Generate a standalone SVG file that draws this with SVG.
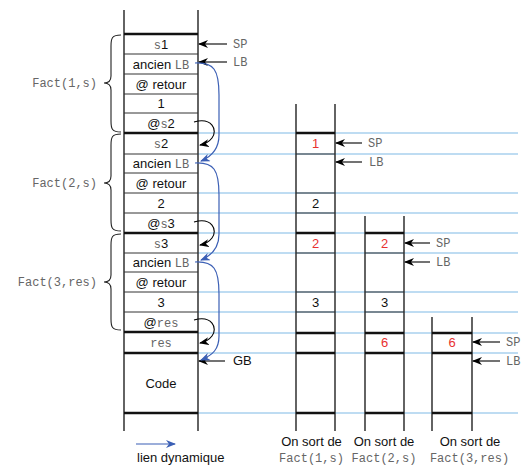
<svg xmlns="http://www.w3.org/2000/svg" width="523" height="465" viewBox="0 0 523 465">
<style>
.bl{stroke:#a8d0ee;stroke-width:1.3}
.v{stroke:#222;stroke-width:1.4}
.t{stroke:#111;stroke-width:2.6}
.n{stroke:#333;stroke-width:1}
.sa{font-family:"Liberation Sans",Arial,sans-serif;font-size:13px;fill:#111}
.mo{font-family:"Liberation Mono","Courier New",monospace;font-size:12px;fill:#666}
.red{fill:#e8312f}
.ptr{stroke:#000;stroke-width:1.1;marker-end:url(#ab)}
.crv{fill:none;stroke:#000;stroke-width:1.1;marker-end:url(#ab)}
.dyn{fill:none;stroke:#3b5fb5;stroke-width:1.2;marker-end:url(#bb)}
.br{fill:none;stroke:#222;stroke-width:1.1}
</style>
<defs>
<marker id="ab" markerWidth="10" markerHeight="8" refX="9" refY="4" orient="auto" markerUnits="userSpaceOnUse"><path d="M0,0 L10,4 L0,8 L3,4 z" fill="#000"/></marker>
<marker id="bb" markerWidth="10" markerHeight="8" refX="9" refY="4" orient="auto" markerUnits="userSpaceOnUse"><path d="M0,0 L10,4 L0,8 L3,4 z" fill="#3b5fb5"/></marker>
</defs>
<rect width="523" height="465" fill="#fff"/>
<g id="guides">
<line class="bl" x1="198" y1="133" x2="518" y2="133"/>
<line class="bl" x1="198" y1="154" x2="518" y2="154"/>
<line class="bl" x1="198" y1="193" x2="518" y2="193"/>
<line class="bl" x1="198" y1="213" x2="518" y2="213"/>
<line class="bl" x1="198" y1="233" x2="518" y2="233"/>
<line class="bl" x1="198" y1="253" x2="518" y2="253"/>
<line class="bl" x1="198" y1="292" x2="518" y2="292"/>
<line class="bl" x1="198" y1="312" x2="518" y2="312"/>
<line class="bl" x1="198" y1="333" x2="518" y2="333"/>
<line class="bl" x1="198" y1="353" x2="518" y2="353"/>
<line class="bl" x1="198" y1="413" x2="518" y2="413"/>
</g>
<g id="main-stack">
<line class="v" x1="124" y1="10" x2="124" y2="431"/>
<line class="v" x1="198" y1="10" x2="198" y2="431"/>
<line class="t" x1="124" y1="34" x2="198" y2="34"/>
<line class="n" x1="124" y1="54" x2="198" y2="54"/>
<line class="n" x1="124" y1="74" x2="198" y2="74"/>
<line class="n" x1="124" y1="94" x2="198" y2="94"/>
<line class="n" x1="124" y1="113" x2="198" y2="113"/>
<line class="t" x1="124" y1="133" x2="198" y2="133"/>
<line class="n" x1="124" y1="154" x2="198" y2="154"/>
<line class="n" x1="124" y1="173" x2="198" y2="173"/>
<line class="n" x1="124" y1="193" x2="198" y2="193"/>
<line class="n" x1="124" y1="213" x2="198" y2="213"/>
<line class="t" x1="124" y1="233" x2="198" y2="233"/>
<line class="n" x1="124" y1="253" x2="198" y2="253"/>
<line class="n" x1="124" y1="272" x2="198" y2="272"/>
<line class="n" x1="124" y1="292" x2="198" y2="292"/>
<line class="n" x1="124" y1="312" x2="198" y2="312"/>
<line class="t" x1="124" y1="332" x2="198" y2="332"/>
<line class="t" x1="124" y1="353" x2="198" y2="353"/>
<line class="t" x1="124" y1="413" x2="198" y2="413"/>
<text class="sa" x="161" y="48.5" text-anchor="middle"><tspan class="mo">s</tspan>1</text>
<text class="sa" x="161" y="68.5" text-anchor="middle">ancien <tspan class="mo" font-size="11">LB</tspan></text>
<text class="sa" x="161" y="88.5" text-anchor="middle">@ retour</text>
<text class="sa" x="161" y="108" text-anchor="middle">1</text>
<text class="sa" x="161" y="127.5" text-anchor="middle">@<tspan class="mo">s</tspan>2</text>
<text class="sa" x="161" y="148" text-anchor="middle"><tspan class="mo">s</tspan>2</text>
<text class="sa" x="161" y="168" text-anchor="middle">ancien <tspan class="mo" font-size="11">LB</tspan></text>
<text class="sa" x="161" y="187.5" text-anchor="middle">@ retour</text>
<text class="sa" x="161" y="207.5" text-anchor="middle">2</text>
<text class="sa" x="161" y="227.5" text-anchor="middle">@<tspan class="mo">s</tspan>3</text>
<text class="sa" x="161" y="247.5" text-anchor="middle"><tspan class="mo">s</tspan>3</text>
<text class="sa" x="161" y="267" text-anchor="middle">ancien <tspan class="mo" font-size="11">LB</tspan></text>
<text class="sa" x="161" y="286.5" text-anchor="middle">@ retour</text>
<text class="sa" x="161" y="306.5" text-anchor="middle">3</text>
<text class="sa" x="161" y="326.5" text-anchor="middle">@<tspan class="mo">res</tspan></text>
<text class="mo" x="161" y="347" text-anchor="middle">res</text>
<text class="sa" x="161" y="387.5" text-anchor="middle">Code</text>
</g>
<g id="braces">
<path class="br" d="M121,35 C112,35 111,38 111,46 L111,76 C111,81 108,83 104,83 C108,83 111,85 111,90 L111,121 C111,129 112,132 121,132"/>
<text class="mo" x="97" y="87" text-anchor="end" font-size="12.4">Fact(1,s)</text>
<path class="br" d="M121,134 C112,134 111,137 111,145 L111,176 C111,181 108,183 104,183 C108,183 111,185 111,190 L111,220 C111,228 112,231 121,231"/>
<text class="mo" x="97" y="187" text-anchor="end" font-size="12.4">Fact(2,s)</text>
<path class="br" d="M121,234 C112,234 111,237 111,245 L111,275 C111,280 108,282 104,282 C108,282 111,284 111,289 L111,319 C111,327 112,330 121,330"/>
<text class="mo" x="97" y="286" text-anchor="end" font-size="12.4">Fact(3,res)</text>
</g>
<g id="col1">
<line class="v" x1="296" y1="104" x2="296" y2="431"/>
<line class="v" x1="335" y1="104" x2="335" y2="431"/>
<line class="t" x1="296" y1="133" x2="335" y2="133"/>
<line class="n" x1="296" y1="154" x2="335" y2="154"/>
<line class="n" x1="296" y1="193" x2="335" y2="193"/>
<line class="n" x1="296" y1="213" x2="335" y2="213"/>
<line class="t" x1="296" y1="233" x2="335" y2="233"/>
<line class="n" x1="296" y1="253" x2="335" y2="253"/>
<line class="n" x1="296" y1="292" x2="335" y2="292"/>
<line class="n" x1="296" y1="312" x2="335" y2="312"/>
<line class="t" x1="296" y1="333" x2="335" y2="333"/>
<line class="t" x1="296" y1="353" x2="335" y2="353"/>
<line class="t" x1="296" y1="413" x2="335" y2="413"/>
<text class="sa red" x="315.5" y="148" text-anchor="middle">1</text>
<text class="sa" x="315.5" y="207.5" text-anchor="middle">2</text>
<text class="sa red" x="315.5" y="247.5" text-anchor="middle">2</text>
<text class="sa" x="315.5" y="306.5" text-anchor="middle">3</text>
<text class="sa" x="311.5" y="446" text-anchor="middle">On sort de</text>
<text class="mo" x="311.5" y="462" text-anchor="middle">Fact(1,s)</text>
</g>
<g id="col2">
<line class="v" x1="365" y1="216" x2="365" y2="431"/>
<line class="v" x1="404" y1="216" x2="404" y2="431"/>
<line class="t" x1="365" y1="233" x2="404" y2="233"/>
<line class="n" x1="365" y1="253" x2="404" y2="253"/>
<line class="n" x1="365" y1="292" x2="404" y2="292"/>
<line class="n" x1="365" y1="312" x2="404" y2="312"/>
<line class="t" x1="365" y1="333" x2="404" y2="333"/>
<line class="t" x1="365" y1="353" x2="404" y2="353"/>
<line class="t" x1="365" y1="413" x2="404" y2="413"/>
<text class="sa red" x="384.5" y="247.5" text-anchor="middle">2</text>
<text class="sa" x="384.5" y="306.5" text-anchor="middle">3</text>
<text class="sa red" x="384.5" y="347" text-anchor="middle">6</text>
<text class="sa" x="384" y="446" text-anchor="middle">On sort de</text>
<text class="mo" x="384" y="462" text-anchor="middle">Fact(2,s)</text>
</g>
<g id="col3">
<line class="v" x1="432" y1="317" x2="432" y2="431"/>
<line class="v" x1="472" y1="317" x2="472" y2="431"/>
<line class="t" x1="432" y1="333" x2="472" y2="333"/>
<line class="t" x1="432" y1="353" x2="472" y2="353"/>
<line class="t" x1="432" y1="413" x2="472" y2="413"/>
<text class="sa red" x="452" y="347" text-anchor="middle">6</text>
<text class="sa" x="470" y="446" text-anchor="middle">On sort de</text>
<text class="mo" x="469.5" y="462" text-anchor="middle">Fact(3,res)</text>
</g>
<g id="connectors">
<line class="ptr" x1="227" y1="44" x2="199" y2="44"/>
<text class="mo" x="233" y="48">SP</text>
<line class="ptr" x1="227" y1="62" x2="199" y2="62"/>
<text class="mo" x="233" y="66">LB</text>
<line class="ptr" x1="225" y1="361" x2="199" y2="361"/>
<text class="sa" x="233" y="365" font-size="11" fill="#777">GB</text>
<line class="ptr" x1="362" y1="143" x2="336" y2="143"/>
<text class="mo" x="368" y="147">SP</text>
<line class="ptr" x1="362" y1="162" x2="336" y2="162"/>
<text class="mo" x="369" y="166">LB</text>
<line class="ptr" x1="430" y1="243" x2="405" y2="243"/>
<text class="mo" x="436" y="247">SP</text>
<line class="ptr" x1="430" y1="262" x2="405" y2="262"/>
<text class="mo" x="436" y="266">LB</text>
<line class="ptr" x1="500" y1="342" x2="473" y2="342"/>
<text class="mo" x="506" y="346">SP</text>
<line class="ptr" x1="500" y1="361" x2="473" y2="361"/>
<text class="mo" x="506" y="365">LB</text>
<path class="crv" d="M194,122 C212,117 218,130 212,138 C209,142 205,144 200,145"/>
<path class="crv" d="M194,222 C212,217 218,230 212,238 C209,242 205,244 200,245"/>
<path class="crv" d="M194,320 C212,315 218,328 212,336 C209,340 205,342 200,343"/>
<path class="dyn" d="M195,63 C214,62 219,70 219,95 L219,135 C219,148 213,156 201,161"/>
<path class="dyn" d="M195,163 C214,162 219,170 219,195 L219,234 C219,247 213,255 201,260"/>
<path class="dyn" d="M195,262 C214,261 219,269 219,294 L219,336 C219,349 213,355 201,360"/>
</g>
<g id="legend">
<line x1="136" y1="444" x2="175" y2="444" stroke="#3b5fb5" stroke-width="1.2" marker-end="url(#bb)"/>
<text class="sa" x="137" y="462">lien dynamique</text>
</g>
</svg>
